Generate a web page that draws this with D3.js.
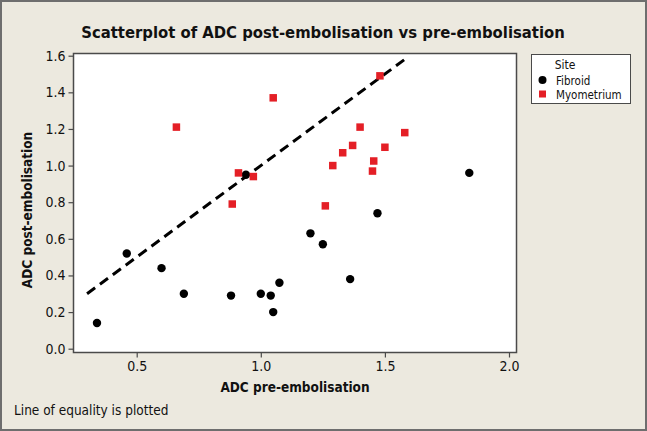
<!DOCTYPE html>
<html><head><meta charset="utf-8">
<script src="https://cdn.jsdelivr.net/npm/d3@7"></script>
<style>
html,body{margin:0;padding:0;background:#ece9df;}
svg{display:block;}
text{font-family:"DejaVu Sans Condensed","DejaVu Sans",sans-serif;font-stretch:condensed;fill:#111;}
</style></head>
<body>
<script>
const fibroidPre  = [0.34,0.46,0.60,0.69,0.88,0.94,1.00,1.04,1.05,1.075,1.20,1.25,1.36,1.47,1.84];
const fibroidPost = [0.14,0.52,0.44,0.30,0.29,0.95,0.30,0.29,0.20,0.36,0.63,0.57,0.38,0.74,0.96];
const myoPre  = [0.66,0.885,0.91,0.97,1.05,1.26,1.29,1.33,1.37,1.40,1.45,1.455,1.48,1.50,1.58];
const myoPost = [1.21,0.79,0.96,0.94,1.37,0.78,1.00,1.07,1.11,1.21,0.97,1.025,1.49,1.10,1.18];
const equalityRange = [0.30, 1.59];
const xTicks = [0.5,1.0,1.5,2.0];
const yTicks = [0.0,0.2,0.4,0.6,0.8,1.0,1.2,1.4,1.6];
const legendLabels = ["Fibroid","Myometrium"];

const W=647,H=431;
const svg=d3.select("body").append("svg").attr("width",W).attr("height",H);
svg.append("rect").attr("x",1).attr("y",1).attr("width",W-2).attr("height",H-2)
  .attr("fill","#ece9df").attr("stroke","#6e6e6e").attr("stroke-width",2);

const L=73.5,R=516.5,T=53.5,B=352.5;
const x=d3.scaleLinear().domain([0.5,2.0]).range([136.7,509]);
const y=d3.scaleLinear().domain([0,1.6]).range([348.7,55.7]);

svg.append("rect").attr("x",L).attr("y",T).attr("width",R-L).attr("height",B-T)
  .attr("fill","#fff").attr("stroke","#4a4a4a").attr("stroke-width",1.5);

const xAxis=svg.append("g").attr("transform",`translate(0,${B})`)
  .call(d3.axisBottom(x).tickValues(xTicks).tickFormat(d3.format(".1f")).tickSize(5).tickPadding(4));
const yAxis=svg.append("g").attr("transform",`translate(${L},0)`)
  .call(d3.axisLeft(y).tickValues(yTicks).tickFormat(d3.format(".1f")).tickSize(5).tickPadding(3));
[xAxis,yAxis].forEach(a=>{
  a.select(".domain").remove();
  a.selectAll("line").attr("stroke","#4a4a4a").attr("stroke-width",1.2);
  a.selectAll("text").style("font-family",'"DejaVu Sans Condensed","DejaVu Sans",sans-serif')
   .style("font-size","14px").attr("fill","#222");
});

const g=svg.append("g");
g.append("line").attr("x1",x(equalityRange[0])).attr("y1",y(equalityRange[0]))
  .attr("x2",x(equalityRange[1])).attr("y2",y(equalityRange[1]))
  .attr("stroke","#000").attr("stroke-width",3).attr("stroke-dasharray","10,6");

const fib=fibroidPre.map((v,i)=>({x:v,y:fibroidPost[i]}));
const myo=myoPre.map((v,i)=>({x:v,y:myoPost[i]}));
g.selectAll("circle.f").data(fib).join("circle").attr("class","f")
  .attr("cx",d=>x(d.x)).attr("cy",d=>y(d.y)).attr("r",4.2).attr("fill","#000");
const s=7.5;
g.selectAll("rect.m").data(myo).join("rect").attr("class","m")
  .attr("x",d=>x(d.x)-s/2).attr("y",d=>y(d.y)-s/2).attr("width",s).attr("height",s).attr("fill","#e41f26");

svg.append("text").attr("x",323).attr("y",38).attr("text-anchor","middle")
  .style("font-size","16.5px").style("font-weight","bold")
  .text("Scatterplot of ADC post-embolisation vs pre-embolisation");
svg.append("text").attr("x",(L+R)/2).attr("y",392).attr("text-anchor","middle")
  .style("font-size","13.5px").style("font-weight","bold").text("ADC pre-embolisation");
svg.append("text").attr("transform",`translate(32,${(T+B)/2+7}) rotate(-90)`).attr("text-anchor","middle")
  .style("font-size","13.5px").style("font-weight","bold").text("ADC post-embolisation");
svg.append("text").attr("x",14).attr("y",415).style("font-size","13.5px").text("Line of equality is plotted");

// legend
const lg=svg.append("g");
lg.append("rect").attr("x",531.5).attr("y",54.5).attr("width",99).attr("height",49)
  .attr("fill","#fff").attr("stroke","#4a4a4a").attr("stroke-width",1);
lg.append("text").attr("x",565).attr("y",69).attr("text-anchor","middle").style("font-size","12px").text("Site");
lg.append("circle").attr("cx",542.5).attr("cy",80).attr("r",4).attr("fill","#000");
lg.append("rect").attr("x",539).attr("y",90.5).attr("width",7).attr("height",7).attr("fill","#e41f26");
lg.selectAll("text.l").data(legendLabels).join("text").attr("class","l")
  .attr("x",556).attr("y",(d,i)=>84.5+i*14).style("font-size","11.5px").text(d=>d);
</script>
</body></html>
